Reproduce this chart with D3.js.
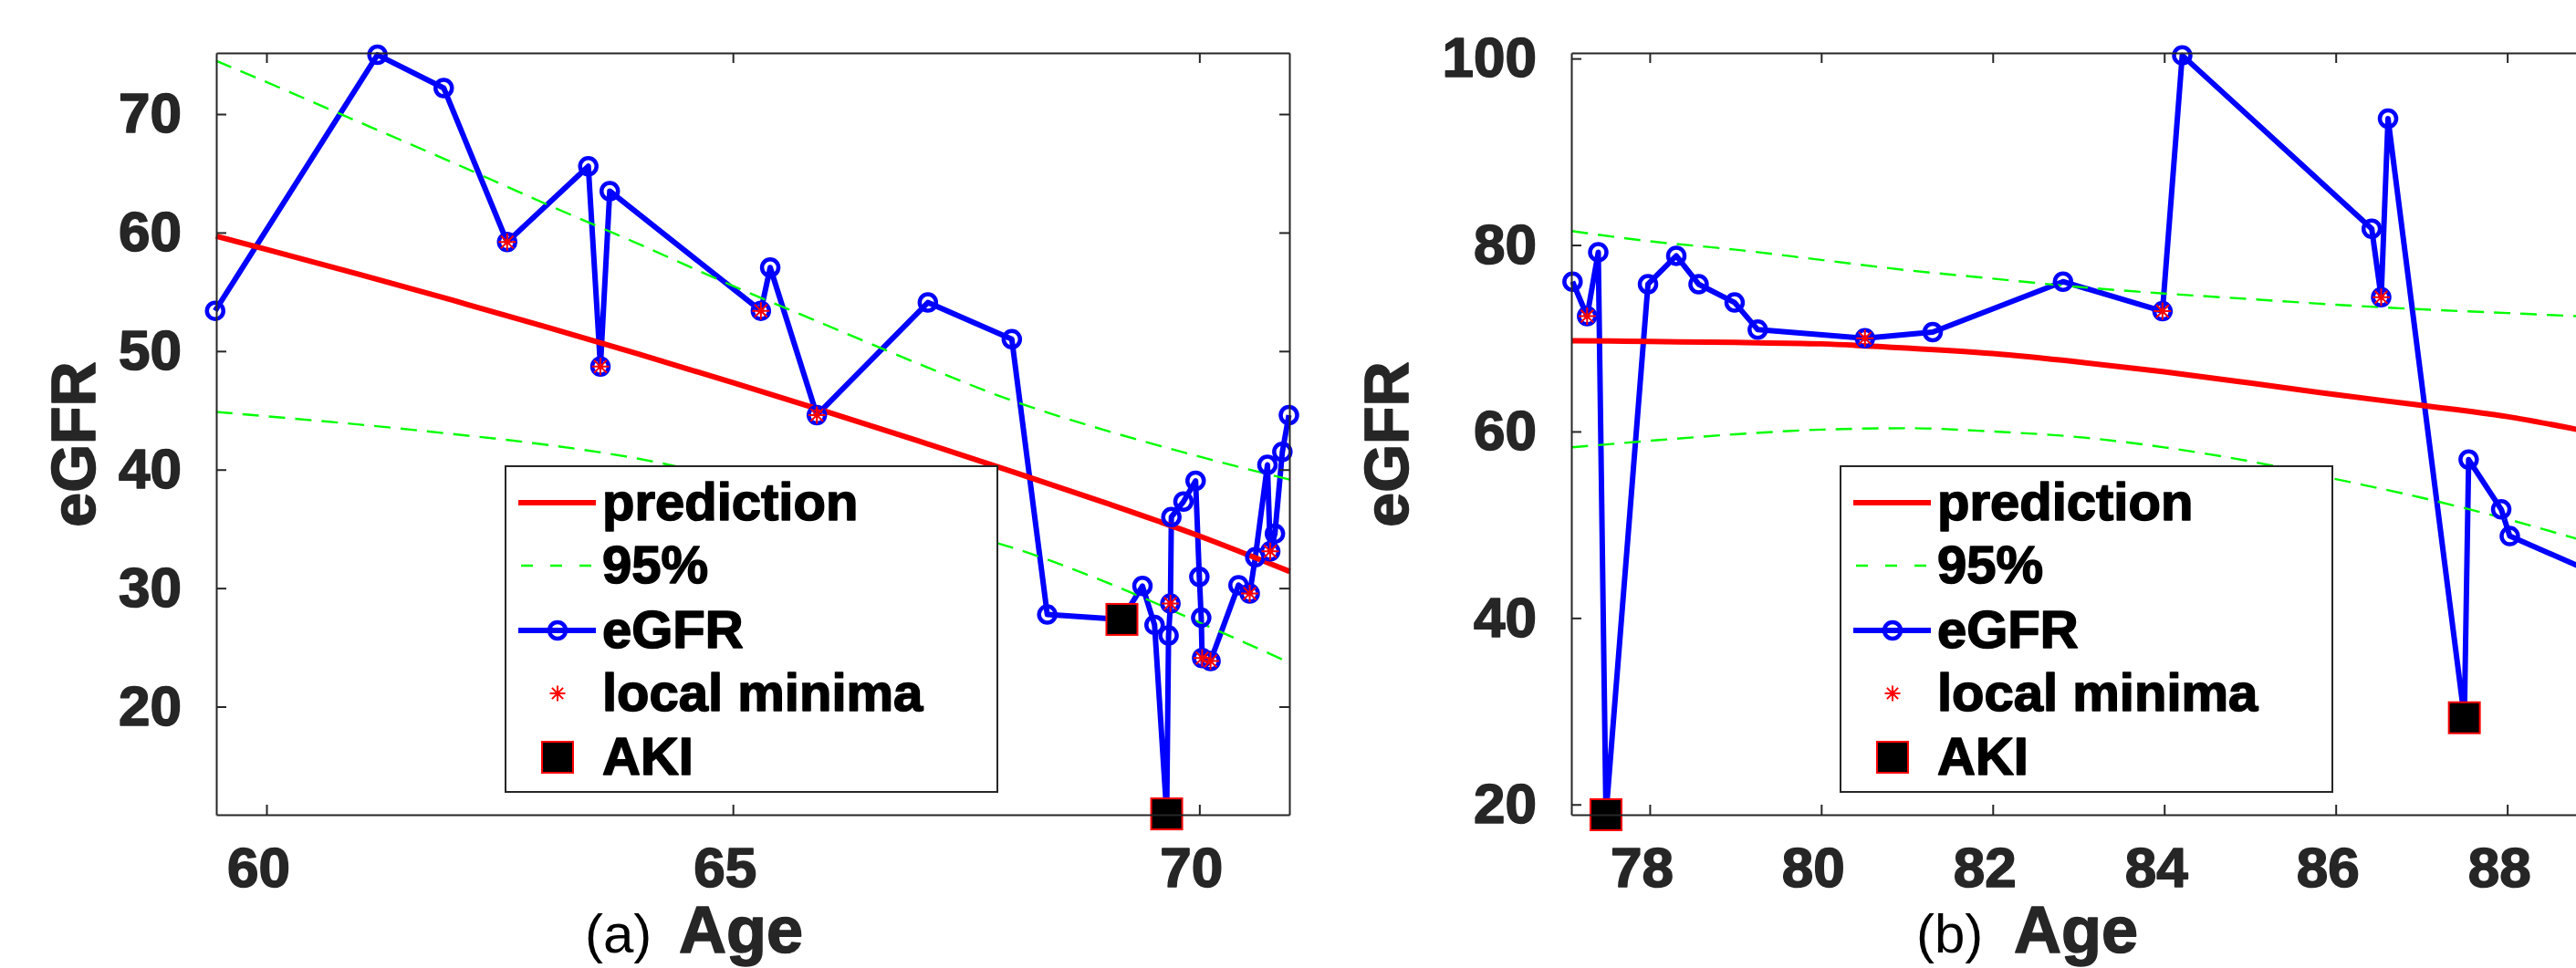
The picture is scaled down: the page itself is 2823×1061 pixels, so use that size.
<!DOCTYPE html>
<html>
<head>
<meta charset="utf-8">
<script src="https://cdn.jsdelivr.net/npm/d3@7/dist/d3.min.js"></script>
<style>
  body { margin: 0; background: #fff; }
  svg { display: block; }
  text { font-family: "Liberation Sans", Arial, sans-serif; }
  text.heavy { font-weight: bold; stroke-width: 1.6px; stroke-linejoin: round; }
</style>
</head>
<body>
<svg id="chart" width="2823" height="1061"></svg>
<script>

// ---- panel (a) : measured eGFR ----
var ageA = [59.45, 61.19, 61.90, 62.58, 63.45, 63.58, 63.68, 65.30, 65.40, 65.90,
            67.09, 67.99, 68.37, 69.17, 69.39, 69.52, 69.65, 69.67, 69.69, 69.70,
            69.83, 69.96, 70.00, 70.02, 70.03, 70.12, 70.42, 70.54, 70.60, 70.73,
            70.76, 70.81, 70.89, 70.96];
var egfrA = [53.4, 75.0, 72.2, 59.2, 65.6, 48.7, 63.5, 53.4, 57.05, 44.6,
             54.1, 51.0, 27.77, 27.36, 30.18, 26.9, 10.95, 26.0, 28.7, 36.0,
             37.3, 39.05, 30.95, 27.5, 24.1, 23.85, 30.25, 29.55, 32.6, 40.4,
             33.1, 34.6, 41.5, 44.6];
var minimaA = [3, 5, 7, 9, 18, 24, 25, 27, 30];   // indexes of local minima
var akiA = [13, 16];                              // indexes of AKI events

// panel (a) : fitted prediction and 95% band
var fitAgeA = [59.46, 60, 61, 62, 63, 64, 65, 66, 67, 68, 69, 70, 70.97];
var predA   = [59.7, 58.58, 56.47, 54.28, 52.03, 49.72, 47.34, 44.9, 42.39, 39.82, 37.18, 34.4, 31.4];
var upperA  = [74.5, 72.7, 69.3, 65.9, 62.4, 59.0, 55.5, 52.2, 48.9, 45.8, 43.3, 41.1, 39.15];
var lowerA  = [44.87, 44.5, 43.8, 43.0, 42.1, 40.9, 39.2, 37.4, 35.5, 33.4, 30.5, 27.1, 23.7];

// ---- panel (b) ----
var ageB = [77.10, 77.27, 77.40, 77.49, 77.98, 78.31, 78.57, 78.99, 79.26, 80.51,
            81.30, 82.82, 83.98, 84.21, 86.42, 86.53, 86.61, 87.50, 87.55, 87.93,
            88.03, 89.40];
var egfrB = [76.07, 72.37, 79.23, 18.9, 75.8, 78.84, 75.8, 73.83, 70.92, 70.0,
             70.66, 76.07, 72.9, 100.34, 81.74, 74.4, 93.55, 29.3, 56.98, 51.65,
             48.78, 43.3];
var minimaB = [1, 9, 12, 15];
var akiB = [3, 17];

var fitAgeB = [77.09, 78, 79, 80, 81, 82, 83, 84, 85, 86, 87, 88, 89, 89.6];
var predB   = [69.74, 69.65, 69.55, 69.4, 68.95, 68.35, 67.45, 66.4, 65.2, 63.95, 62.8, 61.6, 59.9, 58.9];
var upperB  = [81.5, 80.4, 79.5, 78.4, 77.3, 76.4, 75.5, 74.8, 74.2, 73.6, 73.1, 72.7, 72.3, 72.1];
var lowerB  = [58.3, 59.0, 59.7, 60.2, 60.35, 60.0, 59.4, 58.3, 56.8, 54.9, 52.9, 50.6, 48.0, 46.5];

// ticks
var xTicksA = [60, 65, 70];
var yTicksA = [20, 30, 40, 50, 60, 70];
var xTicksB = [78, 80, 82, 84, 86, 88];
var yTicksB = [20, 40, 60, 80, 100];

var legendLabels = ["prediction", "95%", "eGFR", "local minima", "AKI"];

var svg = d3.select("#chart");
var axisColor = "#262626";

// asterisk marker (plus + cross), like matlab '*'
function starPath(h) {
    var d = h * 0.72;
    return "M0," + (-h) + "V" + h + "M" + (-h) + ",0H" + h +
        "M" + (-d) + "," + (-d) + "L" + d + "," + d +
        "M" + (-d) + "," + d + "L" + d + "," + (-d);
}

function drawPanel(p) {
    var x = d3.scaleLinear().domain(p.xDomain).range([p.left, p.right]);
    var y = d3.scaleLinear().domain(p.yDomain).range([p.bottom, p.top]);
    var g = svg.append("g");

    // series
    var pts = p.ages.map(function (a, i) { return [a, p.vals[i]]; });
    var line = d3.line().x(function (d) { return x(d[0]); }).y(function (d) { return y(d[1]); });
    var smooth = d3.line().curve(d3.curveMonotoneX)
        .x(function (d) { return x(d[0]); }).y(function (d) { return y(d[1]); });

    g.append("path").datum(pts).attr("d", line)
        .attr("fill", "none").attr("stroke", "#0000ff").attr("stroke-width", 6)
        .attr("stroke-linejoin", "round");

    g.append("path").datum(p.fitAge.map(function (a, i) { return [a, p.pred[i]]; }))
        .attr("d", smooth).attr("fill", "none").attr("stroke", "#ff0000").attr("stroke-width", 6);

    [p.upper, p.lower].forEach(function (band) {
        g.append("path").datum(p.fitAge.map(function (a, i) { return [a, band[i]]; }))
            .attr("d", smooth).attr("fill", "none").attr("stroke", "#00ff00")
            .attr("stroke-width", 2.4).attr("stroke-dasharray", "18,11");
    });

    g.selectAll("circle.pt").data(pts).enter().append("circle")
        .attr("class", "pt")
        .attr("cx", function (d) { return x(d[0]); })
        .attr("cy", function (d) { return y(d[1]); })
        .attr("r", 9)
        .attr("fill", "none").attr("stroke", "#0000ff").attr("stroke-width", 4.5);

    g.selectAll("path.star").data(p.minima).enter().append("path")
        .attr("class", "star")
        .attr("transform", function (i) { return "translate(" + x(p.ages[i]) + "," + y(p.vals[i]) + ")"; })
        .attr("d", starPath(9.5))
        .attr("stroke", "#ff0000").attr("stroke-width", 2).attr("fill", "none");

    g.selectAll("rect.aki").data(p.aki).enter().append("rect")
        .attr("class", "aki")
        .attr("x", function (i) { return x(p.ages[i]) - 17; })
        .attr("y", function (i) { return y(p.vals[i]) - 17; })
        .attr("width", 34).attr("height", 34)
        .attr("fill", "#000").attr("stroke", "#ff0000").attr("stroke-width", 2);

    // axes box with inward ticks on all four sides
    var axes = g.append("g");
    axes.append("g").attr("transform", "translate(0," + p.bottom + ")")
        .call(d3.axisBottom(x).tickValues(p.xTicks).tickSize(-11).tickSizeOuter(0).tickPadding(35));
    axes.append("g").attr("transform", "translate(0," + p.top + ")")
        .call(d3.axisTop(x).tickValues(p.xTicks).tickSize(-11).tickSizeOuter(0).tickFormat(""));
    axes.append("g").attr("transform", "translate(" + p.left + ",0)")
        .call(d3.axisLeft(y).tickValues(p.yTicks).tickSize(-11).tickSizeOuter(0).tickPadding(38));
    axes.append("g").attr("transform", "translate(" + p.right + ",0)")
        .call(d3.axisRight(y).tickValues(p.yTicks).tickSize(-11).tickSizeOuter(0).tickFormat(""));

    axes.selectAll("path.domain").attr("stroke", axisColor).attr("stroke-width", 2);
    axes.selectAll(".tick line").attr("stroke", axisColor).attr("stroke-width", 2);
    axes.selectAll(".tick text")
        .attr("class", "heavy")
        .attr("fill", axisColor).attr("stroke", axisColor)
        .style("font-size", "62px");
    axes.select("g").selectAll(".tick text").attr("dx", -9);

    // axis titles
    g.append("text")
        .attr("class", "heavy")
        .attr("transform", "translate(" + p.yTitleX + ",487) rotate(-90)")
        .attr("text-anchor", "middle")
        .attr("fill", axisColor).attr("stroke", axisColor)
        .style("font-size", "68px")
        .text("eGFR");
    g.append("text")
        .attr("x", p.tagX).attr("y", 1044)
        .attr("fill", "#000")
        .style("font-size", "60px")
        .text(p.tag);
    g.append("text")
        .attr("class", "heavy")
        .attr("x", p.ageX).attr("y", 1044)
        .attr("fill", axisColor).attr("stroke", axisColor)
        .style("font-size", "72px")
        .text("Age");

    // legend
    var lg = g.append("g").attr("transform", "translate(" + p.legendX + ",511)");
    lg.append("rect").attr("width", 539).attr("height", 357)
        .attr("fill", "#fff").attr("stroke", axisColor).attr("stroke-width", 2);
    var rowY = [40, 109, 180, 249, 319];
    lg.append("line").attr("x1", 14).attr("x2", 99).attr("y1", rowY[0]).attr("y2", rowY[0])
        .attr("stroke", "#ff0000").attr("stroke-width", 6);
    lg.append("line").attr("x1", 17).attr("x2", 97).attr("y1", rowY[1]).attr("y2", rowY[1])
        .attr("stroke", "#00ff00").attr("stroke-width", 2.4).attr("stroke-dasharray", "13,19");
    lg.append("line").attr("x1", 14).attr("x2", 99).attr("y1", rowY[2]).attr("y2", rowY[2])
        .attr("stroke", "#0000ff").attr("stroke-width", 6);
    lg.append("circle").attr("cx", 57).attr("cy", rowY[2]).attr("r", 9)
        .attr("fill", "none").attr("stroke", "#0000ff").attr("stroke-width", 4.5);
    lg.append("path").attr("transform", "translate(57," + rowY[3] + ")")
        .attr("d", starPath(8.5)).attr("stroke", "#ff0000").attr("stroke-width", 2);
    lg.append("rect").attr("x", 40).attr("y", rowY[4] - 17).attr("width", 34).attr("height", 34)
        .attr("fill", "#000").attr("stroke", "#ff0000").attr("stroke-width", 2);
    lg.selectAll("text.lab").data(legendLabels).enter().append("text")
        .attr("class", "lab heavy")
        .attr("x", 106)
        .attr("y", function (d, i) { return rowY[i] + 19; })
        .attr("fill", "#000").attr("stroke", "#000")
        .style("font-size", "58px")
        .text(function (d) { return d; });
}

drawPanel({
    left: 237, right: 1413, top: 58, bottom: 893,
    xDomain: [59.462, 70.965], yDomain: [10.88, 75.16],
    ages: ageA, vals: egfrA, minima: minimaA, aki: akiA,
    fitAge: fitAgeA, pred: predA, upper: upperA, lower: lowerA,
    xTicks: xTicksA, yTicks: yTicksA,
    yTitleX: 104, tag: "(a)", tagX: 641, ageX: 744, legendX: 554
});

drawPanel({
    left: 1722, right: 2898, top: 58, bottom: 893,
    xDomain: [77.086, 89.6], yDomain: [18.9, 100.6],
    ages: ageB, vals: egfrB, minima: minimaB, aki: akiB,
    fitAge: fitAgeB, pred: predB, upper: upperB, lower: lowerB,
    xTicks: xTicksB, yTicks: yTicksB,
    yTitleX: 1543, tag: "(b)", tagX: 2100, ageX: 2207, legendX: 2017
});

</script>
</body>
</html>
